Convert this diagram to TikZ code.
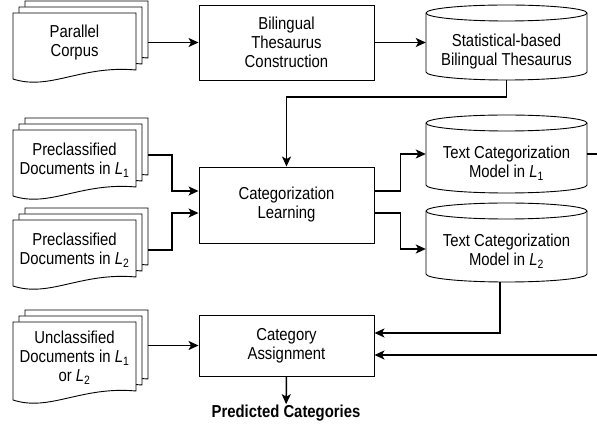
\documentclass[tikz,border=0pt]{standalone}
\usepackage{fontspec}
\setmainfont{Liberation Sans}[FakeStretch=0.86]
\usetikzlibrary{arrows.meta,calc}
\tikzset{
 shapeline/.style={draw=black, line width=0.9pt},
 procbox/.style={shapeline, rectangle, inner sep=0pt, align=center, minimum width=175pt},
 hidden/.style={rectangle, inner sep=0pt, draw=none},
 txt/.style={align=center, inner sep=0pt},
 conn/.style={draw=black, line width=1.5pt, -{Stealth[length=10pt,width=9pt,inset=2.5pt]}},
 plainconn/.style={draw=black, line width=1.5pt},
}
\newcommand\docstack[4]{%
 \foreach \dx/\dy in {12/-12, 6/-6, 0/0}{
  \draw[shapeline, fill=white] (13+\dx,#2+\dy) -- (136+\dx,#2+\dy) -- (136+\dx,#2+\dy+#3-9) .. controls (13+\dx+67.65,#2+\dy+#3-14) and (13+\dx+36.9,#2+\dy+#3+12) .. (13+\dx,#2+\dy+#3) -- cycle;
 }
 \node[hidden, minimum width=135pt, minimum height={#3pt+12pt}] (#1) at (80.5,{#2-12+(#3+12)/2}) {};
 \node[txt] (#1t) at (74.5,{#2+#3/2-3}) {#4};
}
\newcommand\cyl[5]{%
 \draw[shapeline, fill=white] (#2-80.5,#3+8) -- (#2-80.5,#4-8) arc[start angle=180,end angle=360,x radius=80.5pt,y radius=8pt] -- (#2+80.5,#3+8) arc[start angle=0,end angle=180,x radius=80.5pt,y radius=8pt] -- cycle;
 \draw[shapeline] (#2+80.5,#3+8) arc[start angle=0,end angle=-180,x radius=80.5pt,y radius=8pt];
 \node[hidden, minimum width=161pt, minimum height={#4pt-#3pt}] (#1) at (#2,{(#3+#4)/2}) {};
 \node[txt] (#1t) at (#2,{(#3+#4)/2+9}) {#5};
}
\newcommand\Lsub[1]{\textit{L}\textsubscript{#1}}
\begin{document}
\begin{tikzpicture}[x=1pt,y=-1pt, font=\fontsize{17.3}{19}\selectfont]
\useasboundingbox (0,0) rectangle (597,427);
\docstack{pc}{13}{66}{Parallel\\Corpus}
\docstack{pa}{130}{66}{Preclassified\\Documents in \Lsub{1}}
\docstack{pb}{220}{66}{Preclassified\\Documents in \Lsub{2}}
\docstack{uc}{322}{78}{Unclassified\\Documents in \Lsub{1}\\or \Lsub{2}}

\node[procbox, minimum height=75pt] (bt) at (286.5,42.5) {Bilingual\\Thesaurus\\Construction};
\node[procbox, minimum height=76pt] (cl) at (286.5,205) {Categorization\\Learning};
\node[procbox, minimum height=61pt] (ca) at (286.5,345.5) {Category\\Assignment};

\cyl{th}{506.5}{5}{80}{Statistical-based\\Bilingual Thesaurus}
\cyl{ma}{506.5}{115}{193}{Text Categorization\\Model in \Lsub{1}}
\cyl{mb}{506.5}{203}{282}{Text Categorization\\Model in \Lsub{2}}

\node[txt, inner sep=0.5pt] (pred) at (286,413) {\textbf{Predicted Categories}};

\coordinate (re1) at (598,154);
\coordinate (re2) at (598,355);

\draw[conn] (pc.east |- bt.west) -- (bt.west);
\draw[conn] (bt.east) -- (th.west);
\draw[conn] (th.south) -- ++(0,17) -| (cl.north);
\draw[conn] ([yshift=2pt]pa.east) -- ++(24,0) |- ([yshift=14pt]cl.west);
\draw[conn] ([yshift=-3pt]pb.east) -- ++(24,0) |- ([yshift=-8pt]cl.west);
\draw[conn] ([yshift=14pt]cl.east) -- ++(26,0) |- (ma.west);
\draw[conn] ([yshift=-8pt]cl.east) -- ++(26,0) |- ([yshift=-6.5pt]mb.west);
\draw[plainconn] (ma.east) -- (re1);
\draw[conn] ([xshift=-6.5pt]mb.south) |- ([yshift=12.5pt]ca.east);
\draw[conn] (re2) -- (ca.east |- re2);
\draw[conn] (uc.east |- ca.west) -- (ca.west);
\draw[conn] (ca.south) -- (pred);
\end{tikzpicture}
\end{document}
